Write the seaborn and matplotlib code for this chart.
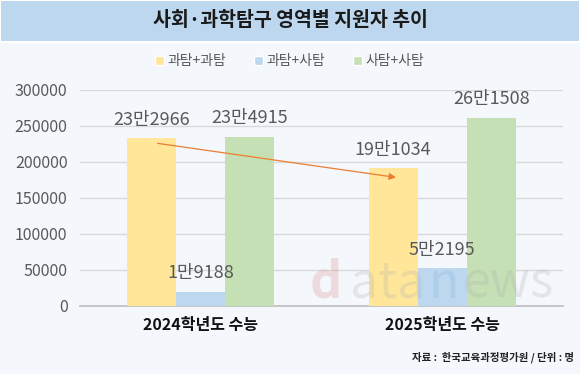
import pandas as pd
import matplotlib.pyplot as plt
import seaborn as sns

# 데이터
years = ['2024학년도 수능', '2025학년도 수능']
groups = ['과탐+과탐', '과탐+사탐', '사탐+사탐']
gwa_gwa = [232966, 191034]
gwa_sa = [19188, 52195]
sa_sa = [234915, 261508]
yticks = [0, 50000, 100000, 150000, 200000, 250000, 300000]

df = pd.DataFrame({
    'year': years * 3,
    'group': [g for g in groups for _ in years],
    'value': gwa_gwa + gwa_sa + sa_sa,
})

colors = ['#FFE699', '#BDD7EE', '#C5E0B4']
bg = '#F4F7FC'

sns.set_theme(style='white')
plt.rcParams['font.family'] = ['Noto Sans CJK KR', 'DejaVu Sans']

fig = plt.figure(figsize=(5.8, 3.74), dpi=100)
fig.patch.set_facecolor(bg)

# 제목 띠
fig.patches.append(plt.Rectangle((0, 1 - 42 / 374), 1, 42 / 374, transform=fig.transFigure,
                                 facecolor='#BDD7EE', edgecolor='white', linewidth=1.5, zorder=0))
fig.text(0.5, 1 - 21 / 374, '사회·과학탐구 영역별 지원자 추이', ha='center', va='center',
         fontsize=14, fontweight='bold', color='#1a1a1a')

ax = fig.add_axes([80 / 580, 1 - 306 / 374, 483 / 580, 216 / 374])
ax.set_facecolor(bg)

sns.barplot(data=df, x='year', y='value', hue='group', palette=colors,
            width=0.61, gap=0, saturation=1, ax=ax, zorder=3, legend=False,
            linewidth=0, edgecolor='none')

# 값 라벨 (만 단위 표기)
def fmt(v):
    return f'{v // 10000}만{v % 10000}'

for cont in ax.containers:
    ax.bar_label(cont, labels=[fmt(int(b.get_height())) for b in cont], padding=7,
                 fontsize=13, color='#595959', zorder=5)

ax.set_ylim(0, 300000)
ax.set_xlim(-0.5, 1.5)
ax.set_yticks(yticks)
ax.set_yticklabels([str(t) for t in yticks], fontsize=11.5, color='#595959')
ax.grid(axis='y', color='#D9D9D9', linewidth=1, zorder=0)
ax.set_xticks([0, 1])
ax.set_xticklabels(years, fontsize=11.5, fontweight='bold', color='#111111')
ax.set_xticks([-0.5, 0.5, 1.5], minor=True)
ax.tick_params(axis='x', which='major', length=0, pad=8)
ax.tick_params(axis='x', which='minor', length=4, color='#BFBFBF', width=1)
ax.tick_params(axis='y', length=0, pad=9)
ax.set_xlabel('')
ax.set_ylabel('')
for s in ['top', 'right', 'left']:
    ax.spines[s].set_visible(False)
ax.spines['bottom'].set_color('#BFBFBF')

# 추세 화살표
ax.annotate('', xy=(0.82, gwa_gwa[1] - 13000), xytext=(-0.19, gwa_gwa[0] - 6500),
            arrowprops=dict(arrowstyle='-|>', color='#ED7D31', lw=0.9, mutation_scale=10),
            zorder=6)

# 범례
handles = [plt.Rectangle((0, 0), 1, 1, facecolor=c) for c in colors]
fig.legend(handles, groups, loc='center', bbox_to_anchor=(0.5, 1 - 61 / 374), ncol=3,
           frameon=False, fontsize=10, labelcolor='#595959', handlelength=0.6,
           handleheight=0.6, handletextpad=0.3, columnspacing=2.0)

# 워터마크
wm = dict(fontsize=36, va='baseline', alpha=0.25, zorder=1)
fig.text(310 / 580, 1 - 298 / 374, 'd', color='#E08080', fontweight='bold', **wm)
fig.text(350 / 580, 1 - 298 / 374, 'ata', color='#B0B0B0', **wm)
fig.text(428 / 580, 1 - 298 / 374, 'n', color='#7FB2E0', **wm)
fig.text(462 / 580, 1 - 298 / 374, 'ews', color='#B0B0B0', **wm)

# 출처
fig.text(0.99, 1 - 357 / 374, '자료 :  한국교육과정평가원 / 단위 : 명', ha='right', va='center',
         fontsize=7.5, fontweight='bold', color='#222222')

fig.savefig('out.png', dpi=100, facecolor=bg)
